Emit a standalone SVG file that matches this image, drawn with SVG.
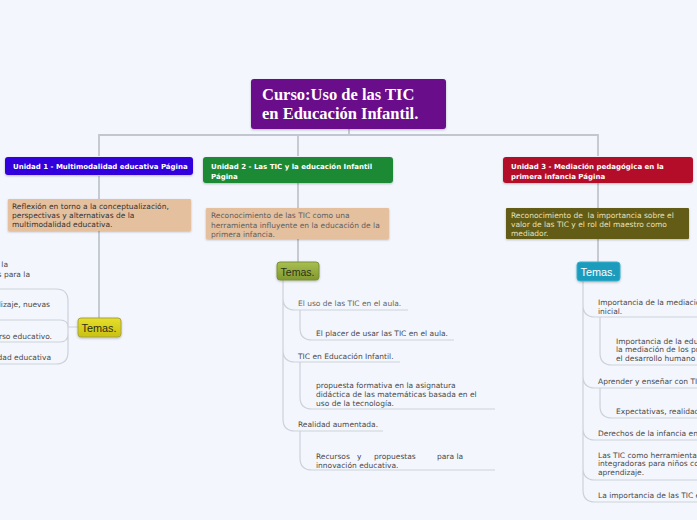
<svg xmlns="http://www.w3.org/2000/svg" width="697" height="520" viewBox="0 0 697 520">
<defs>
<linearGradient id="gY" x1="0" y1="0" x2="0" y2="1"><stop offset="0" stop-color="#e6df2a"/><stop offset="1" stop-color="#c9c112"/></linearGradient>
<linearGradient id="gG" x1="0" y1="0" x2="0" y2="1"><stop offset="0" stop-color="#a9bf50"/><stop offset="1" stop-color="#80982f"/></linearGradient>
<filter id="sh" x="-10%" y="-20%" width="120%" height="150%"><feDropShadow dx="0" dy="1" stdDeviation="0.8" flood-color="#000" flood-opacity="0.25"/></filter>
</defs>
<style>
.t{font-family:"DejaVu Sans",Verdana,sans-serif;font-size:7.5px;fill:#4a4a4a}
.d1{fill:#333333}
.d2{fill:#5e5e5e}
.d3{fill:#e6e0b8}
.g{fill:#666666}
.h{font-family:"DejaVu Sans",Verdana,sans-serif;font-size:7px;font-weight:bold;fill:#ffffff}
.tm{font-family:"Liberation Sans",Arial,sans-serif;font-size:11.5px}
.c{fill:none;stroke:#cdd1d9;stroke-width:1.2}
.m{fill:none;stroke:#c2c6ce;stroke-width:1.8}
</style>
<rect width="697" height="520" fill="#f3f6fd"/>

<g id="connectors">
<path class="m" d="M349,129 V135 M99,156 V135 H598 V156 M298,135 V156"/>
<path class="m" d="M99,176 V318 M298,183 V262 M598,183 V262"/>
<path class="c" d="M78,327 H68 M68,327 V301 Q68,289 56,289 H0 M68,327 Q68,320 60,320 H0 M68,327 V334 Q68,342 60,342 H0 M68,327 V352 Q68,364 56,364 H0"/>
<path class="c" d="M283,280 V298 Q283,310 295,310 H408 M283,298 V350 Q283,362 295,362 H400 M283,350 V419 Q283,431 295,431 H383"/>
<path class="c" d="M300,310 V328 Q300,340 312,340 H454 M300,362 V397 Q300,409 312,409 H495 M300,431 V458 Q300,470 312,470 H495"/>
<path class="c" d="M583,281 V305 Q583,317 595,317 H697 M583,305 V376 Q583,388 595,388 H697 M583,376 V428 Q583,440 595,440 H697 M583,428 V468 Q583,480 595,480 H697 M583,468 V490 Q583,502 595,502 H697"/>
<path class="c" d="M600,317 V353 Q600,365 612,365 H697 M600,388 V406 Q600,418 612,418 H697"/>
</g>

<g id="root">
<rect x="251" y="79" width="195" height="50" rx="3" fill="#6b0a8a" filter="url(#sh)"/>
<text x="262" y="99.5" font-family="'Liberation Serif','Times New Roman',serif" font-weight="bold" font-size="16.5" fill="#ffffff">Curso:Uso de las TIC</text>
<text x="262" y="119" font-family="'Liberation Serif','Times New Roman',serif" font-weight="bold" font-size="16.5" fill="#ffffff">en Educación Infantil.</text>
</g>

<g id="unidad1">
<rect x="5" y="157" width="188" height="18" rx="3" fill="#3302dc" filter="url(#sh)"/>
<text class="h" x="13" y="169">Unidad 1 - Multimodalidad educativa Página</text>
</g>
<g id="desc1">
<rect x="8" y="199" width="183" height="32" rx="1" fill="#e4c09f" filter="url(#sh)"/>
<text class="t d1" x="12" y="209">Reflexión en torno a la conceptualización,</text>
<text class="t d1" x="12" y="218">perspectivas y alternativas de la</text>
<text class="t d1" x="12" y="227">multimodalidad educativa.</text>
</g>
<g id="temas1">
<rect x="78" y="318" width="43" height="19" rx="3" fill="url(#gY)" stroke="#aaa43a" stroke-width="1" filter="url(#sh)"/>
<text class="tm" x="81.5" y="332" fill="#2e2e10" textLength="35" lengthAdjust="spacingAndGlyphs">Temas.</text>
</g>
<g id="temas1-items">
<text class="t" x="8" y="267" text-anchor="end">la</text>
<text class="t" x="30" y="277" text-anchor="end">s para la</text>
<text class="t" x="50" y="307" text-anchor="end">lizaje, nuevas</text>
<text class="t" x="52" y="339" text-anchor="end">rso educativo.</text>
<text class="t" x="51" y="360" text-anchor="end">dad educativa</text>
</g>

<g id="unidad2">
<rect x="203" y="157" width="190" height="26" rx="3" fill="#1b8935" filter="url(#sh)"/>
<text class="h" x="211" y="169">Unidad 2 - Las TIC y la educación Infantil</text>
<text class="h" x="211" y="178.5">Página</text>
</g>
<g id="desc2">
<rect x="206" y="208" width="183" height="31" rx="1" fill="#e4c09f" filter="url(#sh)"/>
<text class="t d2" x="211" y="218">Reconocimiento de las TIC como una</text>
<text class="t d2" x="211" y="227.5">herramienta influyente en la educación de la</text>
<text class="t d2" x="211" y="236.5">primera infancia.</text>
</g>
<g id="temas2">
<rect x="277" y="262" width="42" height="18" rx="3" fill="url(#gG)" stroke="#7a9136" stroke-width="1" filter="url(#sh)"/>
<text class="tm" x="280.5" y="275.5" fill="#2d3318" textLength="34" lengthAdjust="spacingAndGlyphs">Temas.</text>
</g>
<g id="temas2-items">
<text class="t g" x="298" y="305.5">El uso de las TIC en el aula.</text>
<text class="t" x="316" y="335.5">El placer de usar las TIC en el aula.</text>
<text class="t" x="298" y="358.5">TIC en Educación Infantil.</text>
<text class="t" x="316" y="387.5">propuesta formativa en la asignatura</text>
<text class="t" x="316" y="396.5">didáctica de las matemáticas basada en el</text>
<text class="t" x="316" y="405.5">uso de la tecnología.</text>
<text class="t" x="298" y="426.5">Realidad aumentada.</text>
<text class="t" x="316" y="458.5"><tspan x="316">Recursos</tspan><tspan x="357">y</tspan><tspan x="374">propuestas</tspan><tspan x="437">para la</tspan></text>
<text class="t" x="316" y="467.5">innovación educativa.</text>
</g>

<g id="unidad3">
<rect x="503" y="157" width="190" height="26" rx="3" fill="#b4102b" filter="url(#sh)"/>
<text class="h" x="511" y="169">Unidad 3 - Mediación pedagógica en la</text>
<text class="h" x="511" y="178.5">primera infancia Página</text>
</g>
<g id="desc3">
<rect x="506" y="208" width="183" height="31" rx="1" fill="#645c14" filter="url(#sh)"/>
<text class="t d3" x="511" y="217.5">Reconocimiento de&#160; la importancia sobre el</text>
<text class="t d3" x="511" y="227">valor de las TIC y el rol del maestro como</text>
<text class="t d3" x="511" y="236">mediador.</text>
</g>
<g id="temas3">
<rect x="577" y="262" width="43" height="19" rx="3" fill="#1a9cbd" stroke="#3fb0cc" stroke-width="1" filter="url(#sh)"/>
<text class="tm" x="580.5" y="276" fill="#ffffff" textLength="35" lengthAdjust="spacingAndGlyphs">Temas.</text>
</g>
<g id="temas3-items">
<text class="t" x="598" y="304.5">Importancia de la mediación</text>
<text class="t" x="598" y="313.5">inicial.</text>
<text class="t" x="616" y="343.5">Importancia de la educación</text>
<text class="t" x="616" y="352">la mediación de los procesos</text>
<text class="t" x="616" y="360.5">el desarrollo humano</text>
<text class="t" x="598" y="384">Aprender y enseñar con TIC</text>
<text class="t" x="616" y="414">Expectativas, realidades</text>
<text class="t" x="598" y="436">Derechos de la infancia en</text>
<text class="t" x="598" y="457.5">Las TIC como herramientas</text>
<text class="t" x="598" y="466">integradoras para niños con</text>
<text class="t" x="598" y="475">aprendizaje.</text>
<text class="t" x="598" y="497.5">La importancia de las TIC en</text>
</g>
</svg>
